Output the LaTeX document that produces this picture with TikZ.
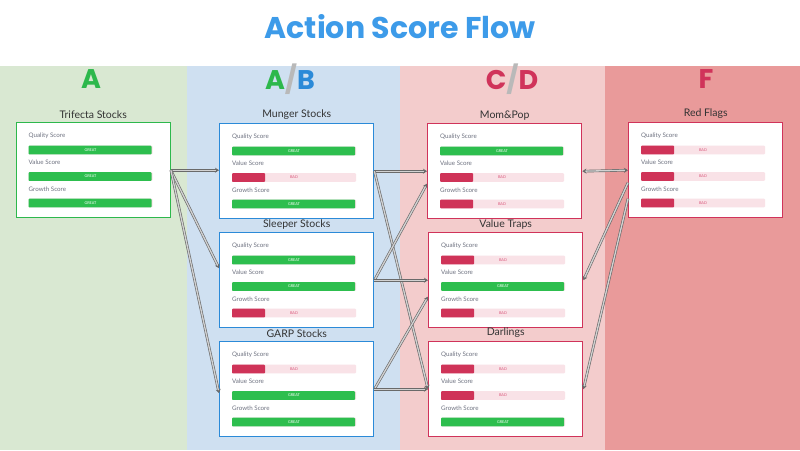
\documentclass[tikz,border=0pt]{standalone}
\usepackage{fontspec}
\setmainfont{Lato}
\newfontfamily\headfont{Poppins}
\usetikzlibrary{calc}
\usetikzlibrary{positioning}
\usetikzlibrary{arrows.meta}

\definecolor{titleblue}{HTML}{3D9BE9}
\definecolor{gradeA}{HTML}{2DB84C}
\definecolor{gradeB}{HTML}{2B8AD8}
\definecolor{gradeC}{HTML}{D0335A}
\definecolor{bgA}{HTML}{D9E8D2}
\definecolor{bgB}{HTML}{CFE0F1}
\definecolor{bgC}{HTML}{F3CCCC}
\definecolor{bgF}{HTML}{E99A9A}
\definecolor{bargreen}{HTML}{2DBE4E}
\definecolor{barred}{HTML}{CF3358}
\definecolor{bartrack}{HTML}{F9E2E7}
\definecolor{badtext}{HTML}{D9557A}
\definecolor{labelgray}{HTML}{6E7280}
\definecolor{flowgray}{HTML}{6A6A6A}

\tikzset{
  card/.style={draw, fill=white, line width=1.4pt, minimum width=154pt,
    minimum height=95pt, anchor=north west, inner sep=0pt},
  cardtitle/.style={font=\fontsize{10.5}{11}\selectfont, text=black!80, inner sep=0pt},
  scorelabel/.style={font=\fontsize{6.2}{7}\selectfont, text=labelgray,
    anchor=west, inner sep=0pt},
  bartext/.style={font=\fontsize{3.8}{4}\selectfont, inner sep=0pt},
  grade/.style={font=\headfont\bfseries\fontsize{27}{28}\selectfont, inner sep=0pt},
  flow/.style={draw=flowgray, double=gray!35, double distance=1.3pt,
    line width=0.65pt, -{Stealth[length=4pt,width=5pt]}}
}

% one stock card: name, x, y, title, colour, quality, value, growth (1 = great)
\newcommand\stockcard[8]{
  \node[card, draw=#5] (#1) at (#2,#3) {};
  \node[cardtitle, above=3pt of #1.north] (#1-title) {#4};
  \foreach \lbl/\grade [count=\i] in {Quality Score/#6, Value Score/#7, Growth Score/#8}{
    \node[scorelabel] (#1-l\i) at ($(#1.north west)+(13,{14+26.5*(\i-1)})$) {\lbl};
    \coordinate (#1-b\i) at ($(#1.north west)+(13,{23.7+26.5*(\i-1)})$);
    \fill[bartrack, rounded corners=1pt] (#1-b\i) rectangle +(124,8.6);
    \ifnum\grade=1
      \fill[bargreen, rounded corners=0.8pt] (#1-b\i) rectangle +(123,8.6);
      \node[bartext, text=white] (#1-t\i) at ($(#1-b\i)+(62,4.3)$) {GREAT};
    \else
      \fill[barred, rounded corners=0.8pt] (#1-b\i) rectangle +(33,8.6);
      \node[bartext, text=badtext] (#1-t\i) at ($(#1-b\i)+(62,4.3)$) {BAD};
    \fi
  }
}

\begin{document}
\begin{tikzpicture}[x=1pt, y=-1pt]
  \useasboundingbox (0,0) rectangle (800,450);
  % columns
  \fill[bgA] (0,66) rectangle (187,450);
  \fill[bgB] (187,66) rectangle (400,450);
  \fill[bgC] (400,66) rectangle (605,450);
  \fill[bgF] (605,66) rectangle (800,450);

  \node[font=\headfont\bfseries\fontsize{30}{31}\selectfont, text=titleblue] (title) at (400,27) {Action Score Flow};
  \node[grade, text=gradeA] (colA) at (91,79) {A};
  \node[grade] (colAB) at (290,79) {\textcolor{gradeA}{A}\textcolor{gray!55}{/}\textcolor{gradeB}{B}};
  \node[grade, text=gradeC] (colCD) at (512,79) {C\textcolor{gray!55}{/}D};
  \node[grade, text=gradeC] (colF) at (706,79) {F};

  % cards
  \stockcard{trifecta}{15.5}{122}{Trifecta Stocks}{gradeA}{1}{1}{1}
  \stockcard{munger}{219}{123}{Munger Stocks}{gradeB}{1}{0}{1}
  \stockcard{sleeper}{219}{232}{Sleeper Stocks}{gradeB}{1}{1}{0}
  \stockcard{garp}{219}{341}{GARP Stocks}{gradeB}{0}{1}{1}
  \stockcard{mompop}{427}{123}{Mom\&Pop}{gradeC}{1}{0}{0}
  \stockcard{valuetraps}{428}{232}{Value Traps}{gradeC}{0}{1}{0}
  \stockcard{darlings}{428}{341}{Darlings}{gradeC}{0}{0}{1}
  \stockcard{redflags}{628}{122}{Red Flags}{gradeC}{0}{0}{0}

  % flows
  \draw[flow] (trifecta.east) -- (trifecta.east -| munger.west);
  \draw[flow] (trifecta.east) -- ([yshift=12pt]sleeper.west);
  \draw[flow] (trifecta.east) -- ([yshift=-4pt]garp.west);
  \draw[flow] (munger.east) -- (mompop.west);
  \draw[flow] (munger.east) -- (darlings.west);
  \draw[flow] (sleeper.east) -- ([yshift=-12.5pt]mompop.west);
  \draw[flow] (sleeper.east) -- (valuetraps.west);
  \draw[flow] (garp.east) -- ([yshift=-16.5pt]valuetraps.west);
  \draw[flow] (garp.east) -- (darlings.west);
  \draw[flow, {Stealth[length=4pt,width=5pt]}-{Stealth[length=4pt,width=5pt]}] (mompop.east) -- (redflags.west);
  \draw[flow, {Stealth[length=4pt,width=5pt]}-] (valuetraps.east) -- ([yshift=-12.5pt]redflags.west);
  \draw[flow, {Stealth[length=4pt,width=5pt]}-] (darlings.east) -- ([yshift=-28.5pt]redflags.west);
\end{tikzpicture}
\end{document}
